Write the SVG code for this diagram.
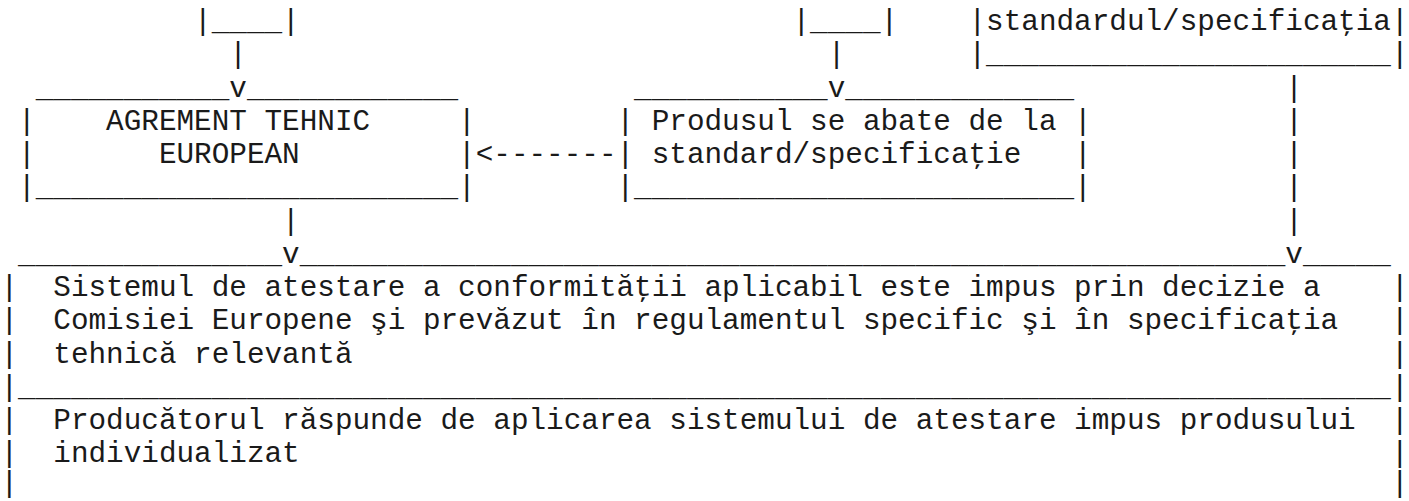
<svg xmlns="http://www.w3.org/2000/svg" width="1409" height="501" viewBox="0 0 1409 501">
<style>
text{font-family:"Liberation Mono","DejaVu Sans Mono",monospace;font-size:29.333px;fill:#1a1a1a;white-space:pre}
</style>
<rect width="1409" height="501" fill="#fff"/>
<g id="stub-left">
<text x="194.1" y="30">|____|</text>
</g>
<g id="stub-middle">
<text x="792.5" y="30">|____|</text>
</g>
<g id="node-standard">
<text x="968.5" y="30">|standardul/specificaţia|</text>
<text x="968.5" y="63.25" textLength="440" lengthAdjust="spacing">|_______________________|</text>
</g>
<g id="node-agrement">
<text x="35.7" y="96.5" textLength="193.6" lengthAdjust="spacing">___________</text>
<text x="246.9" y="96.5" textLength="211.2" lengthAdjust="spacing">____________</text>
<text x="18.1" y="129.75">|</text>
<text x="106.1" y="129.75">AGREMENT TEHNIC</text>
<text x="458.1" y="129.75">|</text>
<text x="18.1" y="163">|</text>
<text x="158.9" y="163">EUROPEAN</text>
<text x="458.1" y="163">|</text>
<text x="18.1" y="196.25" textLength="457.6" lengthAdjust="spacing">|________________________|</text>
</g>
<g id="node-produs">
<text x="634.1" y="96.5" textLength="193.6" lengthAdjust="spacing">___________</text>
<text x="845.3" y="96.5" textLength="228.8" lengthAdjust="spacing">_____________</text>
<text x="616.5" y="129.75">|</text>
<text x="651.7" y="129.75">Produsul se abate de la</text>
<text x="1074.1" y="129.75">|</text>
<text x="616.5" y="163">|</text>
<text x="651.7" y="163">standard/specificaţie</text>
<text x="1074.1" y="163">|</text>
<text x="616.5" y="196.25" textLength="475.2" lengthAdjust="spacing">|_________________________|</text>
</g>
<g id="node-sistem">
<text x="18.1" y="262.75" textLength="264" lengthAdjust="spacing">_______________</text>
<text x="299.7" y="262.75" textLength="985.6" lengthAdjust="spacing">________________________________________________________</text>
<text x="1302.9" y="262.75" textLength="88" lengthAdjust="spacing">_____</text>
<text x="0.5" y="296">|</text>
<text x="53.3" y="296">Sistemul de atestare a conformităţii aplicabil este impus prin decizie a</text>
<text x="1390.9" y="296">|</text>
<text x="0.5" y="329.25">|</text>
<text x="53.3" y="329.25">Comisiei Europene şi prevăzut în regulamentul specific şi în specificaţia</text>
<text x="1390.9" y="329.25">|</text>
<text x="0.5" y="362.5">|</text>
<text x="53.3" y="362.5">tehnică relevantă</text>
<text x="1390.9" y="362.5">|</text>
<text x="0.5" y="395.75" textLength="1408" lengthAdjust="spacing">|______________________________________________________________________________|</text>
</g>
<g id="node-producator">
<text x="0.5" y="429">|</text>
<text x="53.3" y="429">Producătorul răspunde de aplicarea sistemului de atestare impus produsului</text>
<text x="1390.9" y="429">|</text>
<text x="0.5" y="462.25">|</text>
<text x="53.3" y="462.25">individualizat</text>
<text x="1390.9" y="462.25">|</text>
<text x="0.5" y="492">|</text>
<text x="1390.9" y="492">|</text>
</g>
<g id="connectors">
<text x="229.3" y="63.25">|</text>
<text x="229.3" y="96.5">v</text>
<text x="827.7" y="63.25">|</text>
<text x="827.7" y="96.5">v</text>
<text x="1285.3" y="96.5">|</text>
<text x="1285.3" y="129.75">|</text>
<text x="1285.3" y="163">|</text>
<text x="1285.3" y="196.25">|</text>
<text x="1285.3" y="229.5">|</text>
<text x="1285.3" y="262.75">v</text>
<text x="475.7" y="163">&lt;-------</text>
<text x="282.1" y="229.5">|</text>
<text x="282.1" y="262.75">v</text>
</g>
</svg>
